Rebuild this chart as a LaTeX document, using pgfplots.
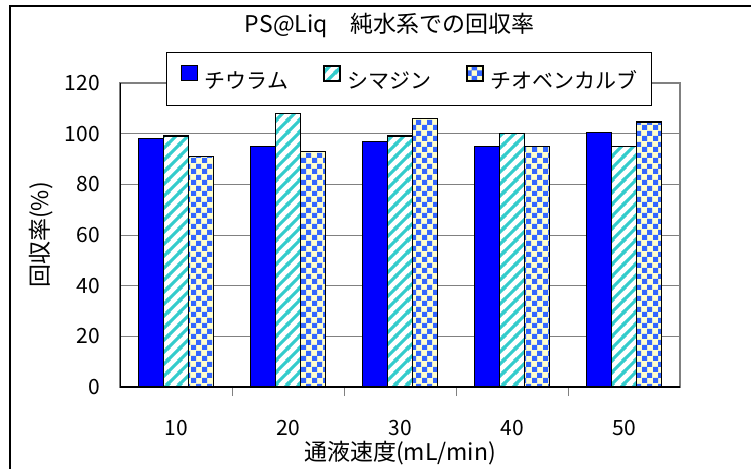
\documentclass[border=0pt]{standalone}
\usepackage{fontspec}
\setmainfont{Noto Sans CJK JP}
\usepackage{pgfplots}
\usepackage{pgfplotstable}
\pgfplotsset{compat=1.18}
\usetikzlibrary{patterns}

\definecolor{thblue}{HTML}{0000FF}
\definecolor{turq}{HTML}{33CCCC}
\definecolor{chkblue}{HTML}{3366FF}
\definecolor{chkyel}{HTML}{FFFFCC}

% diagonal stripes for the second series
\pgfdeclarepatternformonly{stripes}{\pgfqpoint{0pt}{0pt}}{\pgfqpoint{12pt}{12pt}}{\pgfqpoint{12pt}{12pt}}{
  \pgfsetlinewidth{3.4pt}
  \pgfpathmoveto{\pgfqpoint{-2pt}{-2pt}}\pgfpathlineto{\pgfqpoint{14pt}{14pt}}
  \pgfpathmoveto{\pgfqpoint{-2pt}{10pt}}\pgfpathlineto{\pgfqpoint{2pt}{14pt}}
  \pgfpathmoveto{\pgfqpoint{10pt}{-2pt}}\pgfpathlineto{\pgfqpoint{14pt}{2pt}}
  \pgfusepath{stroke}}

% checkerboard for the third series
\pgfdeclarepatternformonly{checks}{\pgfqpoint{0pt}{0pt}}{\pgfqpoint{10.6pt}{10.6pt}}{\pgfqpoint{10.6pt}{10.6pt}}{
  \pgfpathrectangle{\pgfqpoint{0pt}{0pt}}{\pgfqpoint{5.3pt}{5.3pt}}
  \pgfpathrectangle{\pgfqpoint{5.3pt}{5.3pt}}{\pgfqpoint{5.3pt}{5.3pt}}
  \pgfusepath{fill}}

% x = 0..4 stands for 10..50 mL/min
\pgfplotstableread{
x  thiuram simazine thiobencarb
0  98      99       91
1  95      108      93
2  97      99       106
3  95      100      95
4  100.5   95       104.6
}\recovery

\begin{document}
\begin{tikzpicture}
\useasboundingbox (0,0) rectangle (751pt,-468pt);
\draw[black, line width=1.2pt] (10pt,-6pt) rectangle (800pt,-520pt);
\begin{axis}[
    at={(120pt,-387pt)}, anchor=south west,
    scale only axis,
    width=560pt, height=304pt,
    ybar=0pt, bar width=25pt,
    xmin=-0.5, xmax=4.5,
    ymin=0, ymax=120,
    xtick={0,...,4},
    xticklabels={10,20,30,40,50},
    ytick={0,20,...,120},
    extra x ticks={0.5,1.5,2.5,3.5},
    extra x tick labels={},
    extra x tick style={grid=none, major tick length=9pt, xtick style={draw=gray, line width=1pt}},
    xtick style={draw=none},
    ytick style={draw=none},
    tick pos=left,
    ymajorgrids,
    grid style={gray, line width=1pt},
    axis line style={gray, line width=1.3pt},
    axis background/.style={fill=white},
    /pgf/number format/assume math mode=true,
    tick label style={font=\fontsize{21}{21}\selectfont},
    xticklabel style={inner sep=0pt, anchor=north, yshift=-29pt},
    yticklabel style={inner sep=0pt, anchor=east, xshift=-20pt},
    title={PS@Liq\quad 純水系での回収率},
    title style={at={(axis description cs:0.482,1.171)}, anchor=center, inner sep=0pt, font=\fontsize{23}{23}\selectfont},
    xlabel={通液速度(mL/min)},
    xlabel style={at={(axis description cs:0.5,-0.216)}, anchor=center, inner sep=0pt, font=\fontsize{23}{23}\selectfont},
    ylabel={回収率(\%)},
    ylabel style={at={(axis description cs:-0.141,0.5)}, anchor=center, inner sep=0pt, font=\fontsize{23}{23}\selectfont},
    every axis plot post/.append style={
        legend image code/.code={\draw[##1, line width=1pt] (0pt,1.5pt) rectangle (16pt,16.5pt);}},
    legend columns=-1,
    legend style={
        at={(axis description cs:0.0821,1.102)}, anchor=north west,
        draw=black, line width=1pt, fill=white,
        inner xsep=14.5pt, inner ysep=13pt,
        font=\fontsize{21}{21}\selectfont,
        nodes={inner sep=0pt, text height=17pt, text depth=4pt},
        /tikz/every odd column/.append style={column sep=7pt},
        /tikz/every even column/.append style={column sep=35pt},
    },
]
\addplot[draw=black, line width=1.5pt, fill=thblue]
    table[x=x, y=thiuram] {\recovery};
\addplot[draw=black, line width=1.5pt,
         preaction={fill=white}, preaction={pattern=stripes, pattern color=turq}]
    table[x=x, y=simazine] {\recovery};
\addplot[draw=black, line width=1.5pt,
         preaction={fill=chkyel}, preaction={pattern=checks, pattern color=chkblue}]
    table[x=x, y=thiobencarb] {\recovery};
\draw[black, line width=1.3pt] (rel axis cs:0,1) -- (rel axis cs:0,0) -- (rel axis cs:1,0);
\legend{チウラム, シマジン, チオベンカルブ}
\end{axis}
\end{tikzpicture}
\end{document}
